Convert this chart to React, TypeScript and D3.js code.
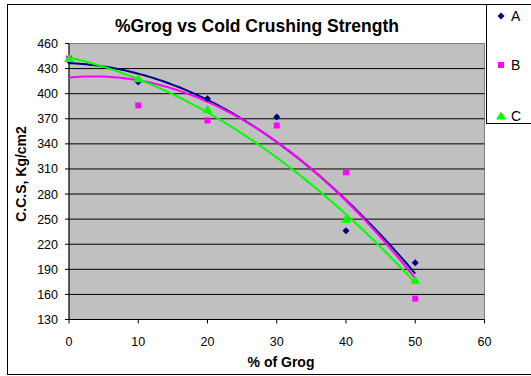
import React from "react";
import * as d3 from "d3";

const xTicks = [0, 10, 20, 30, 40, 50, 60];
const yTicks = [130, 160, 190, 220, 250, 280, 310, 340, 370, 400, 430, 460];

const seriesNames = ["A", "B", "C"];
const aX = [0, 10, 20, 30, 40, 50];
const aY = [439, 414, 394, 372, 236, 198];
const bX = [0, 10, 20, 30, 40, 50];
const bY = [442, 386, 368, 362, 306, 155];
const cX = [0, 10, 20, 40, 50];
const cY = [442, 418, 381, 250, 177];
const colors = ["#000080", "#FF00FF", "#00FF00"];

function quadFit(xs: number[], ys: number[]) {
  const n = xs.length;
  const s = [0, 0, 0, 0, 0], t = [0, 0, 0];
  for (let i = 0; i < n; i++) {
    const x = xs[i], y = ys[i];
    for (let k = 0; k < 5; k++) s[k] += Math.pow(x, k);
    for (let k = 0; k < 3; k++) t[k] += y * Math.pow(x, k);
  }
  const M = [
    [s[0], s[1], s[2], t[0]],
    [s[1], s[2], s[3], t[1]],
    [s[2], s[3], s[4], t[2]],
  ];
  for (let i = 0; i < 3; i++) {
    for (let j = i + 1; j < 3; j++) {
      const f = M[j][i] / M[i][i];
      for (let k = i; k < 4; k++) M[j][k] -= f * M[i][k];
    }
  }
  const c = [0, 0, 0];
  for (let i = 2; i >= 0; i--) {
    let v = M[i][3];
    for (let k = i + 1; k < 3; k++) v -= M[i][k] * c[k];
    c[i] = v / M[i][i];
  }
  return (x: number) => c[0] + c[1] * x + c[2] * x * x;
}

export default function App() {
  const left = 69, right = 484.5, top = 43.5, bottom = 319.5;
  const x = d3.scaleLinear().domain([0, 60]).range([left, right]);
  const y = d3.scaleLinear().domain([130, 460]).range([bottom, top]);
  const font = "Liberation Sans, Arial, sans-serif";
  const series = [
    { xs: aX, ys: aY },
    { xs: bX, ys: bY },
    { xs: cX, ys: cY },
  ];
  const line = d3.line<[number, number]>().x((d) => x(d[0])).y((d) => y(d[1]));
  const samples = d3.range(0, 50.01, 0.5);

  const marker = (i: number, cx: number, cy: number, key: string) => {
    if (i === 0) {
      const r = 3.5;
      return (
        <path key={key} d={`M${cx},${cy - r}L${cx + r},${cy}L${cx},${cy + r}L${cx - r},${cy}Z`} fill={colors[0]} />
      );
    }
    if (i === 1) return <rect key={key} x={cx - 3} y={cy - 3} width={6} height={6} fill={colors[1]} />;
    return <path key={key} d={`M${cx},${cy - 4.5}L${cx + 5},${cy + 3.5}L${cx - 5},${cy + 3.5}Z`} fill={colors[2]} />;
  };

  return (
    <svg width={531} height={376} style={{ position: "absolute", left: 0, top: 0 }} fontFamily={font}>
      <rect x={0} y={0} width={531} height={376} fill="#fff" />
      <rect x={7.5} y={4.5} width={530} height={370} fill="#fff" stroke="#000" strokeWidth={1} />
      <rect x={left} y={top} width={right - left} height={bottom - top} fill="#C0C0C0" stroke="#808080" strokeWidth={1} />
      {yTicks.map((t) => (
        <g key={t}>
          {t > 130 && t < 460 && (
            <line x1={left} x2={right} y1={y(t)} y2={y(t)} stroke="#000" strokeWidth={1} />
          )}
          <line x1={left - 4} x2={left} y1={y(t)} y2={y(t)} stroke="#000" />
          <text x={left - 11} y={y(t) + 4.5} textAnchor="end" fontSize={12.5}>{t}</text>
        </g>
      ))}
      {xTicks.map((t) => (
        <g key={t}>
          <line x1={x(t)} x2={x(t)} y1={bottom} y2={bottom + 4} stroke="#000" />
          <text x={x(t)} y={bottom + 26} textAnchor="middle" fontSize={12.5}>{t}</text>
        </g>
      ))}
      <line x1={left} x2={left} y1={top} y2={bottom} stroke="#000" />
      <line x1={left} x2={right} y1={bottom} y2={bottom} stroke="#000" />
      {series.map((s, i) => {
        const f = quadFit(s.xs, s.ys);
        return (
          <path key={"t" + i} d={line(samples.map((v) => [v, f(v)] as [number, number])) || ""} fill="none" stroke={colors[i]} strokeWidth={2} />
        );
      })}
      {series.map((s, i) => s.xs.map((v, j) => marker(i, x(v), y(s.ys[j]), `m${i}-${j}`)))}
      <text x={257} y={32} textAnchor="middle" fontSize={17.5} fontWeight="bold">%Grog vs Cold Crushing Strength</text>
      <text x={281} y={367} textAnchor="middle" fontSize={14} fontWeight="bold">% of Grog</text>
      <text transform={`translate(26,174) rotate(-90)`} textAnchor="middle" fontSize={14} fontWeight="bold">C.C.S, Kg/cm2</text>
      <rect x={486.5} y={4.5} width={60} height={119} fill="#fff" stroke="#000" />
      {seriesNames.map((n, i) => {
        const ly = [16, 65, 116][i];
        return (
          <g key={n}>
            {marker(i, 501, ly, "l" + i)}
            <text x={511} y={ly + 5} fontSize={14}>{n}</text>
          </g>
        );
      })}
    </svg>
  );
}
